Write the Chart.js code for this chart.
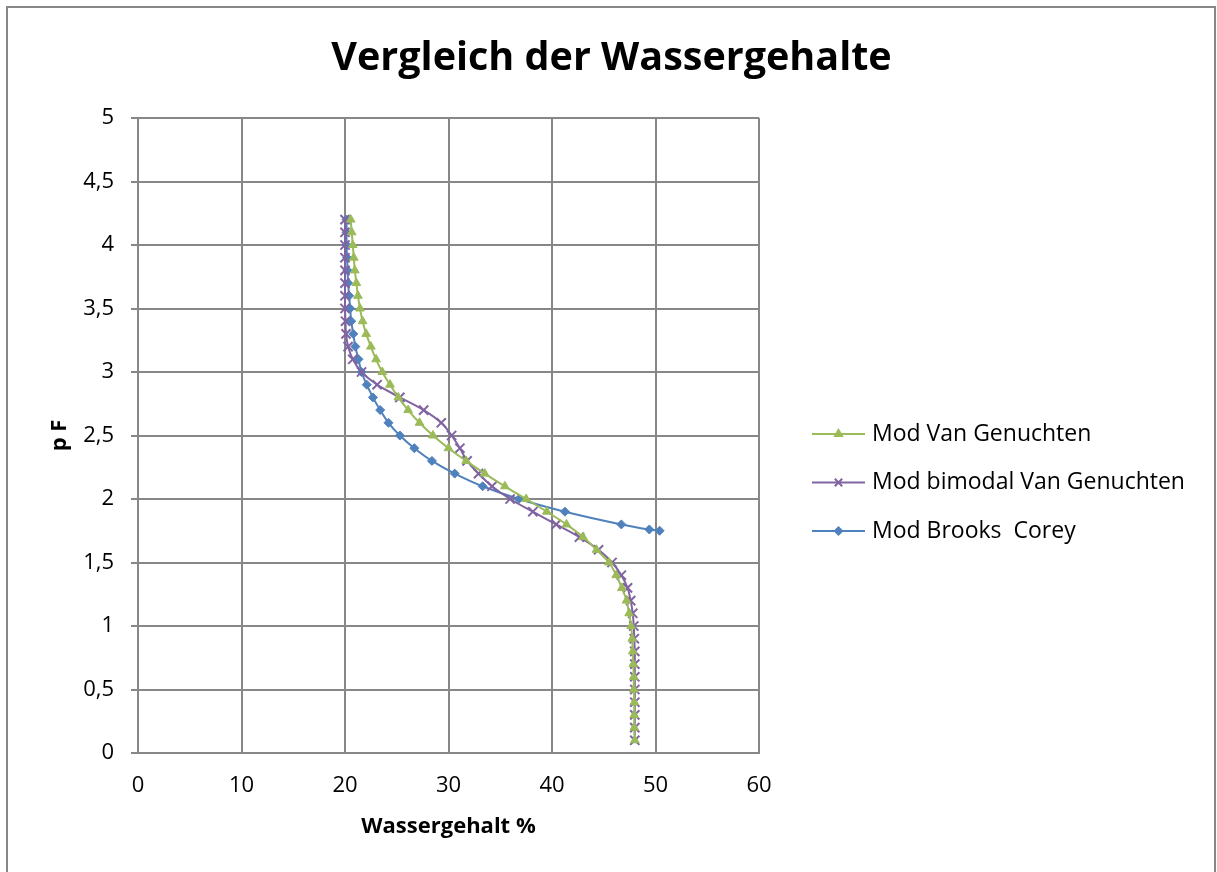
<!DOCTYPE html>
<html>
<head>
<meta charset="utf-8">
<title>Vergleich der Wassergehalte</title>
<script src="https://cdn.jsdelivr.net/npm/chart.js@4/dist/chart.umd.min.js"></script>
<style>
  html, body { margin: 0; padding: 0; background: #ffffff; }
  #wrap { width: 1217px; height: 872px; }
</style>
</head>
<body>
<div id="wrap"><canvas id="chart" width="1217" height="872"></canvas></div>
<script>
// pF levels shared by both Van Genuchten models
const pfLevels = [4.2, 4.1, 4.0, 3.9, 3.8, 3.7, 3.6, 3.5, 3.4, 3.3, 3.2, 3.1, 3.0, 2.9, 2.8, 2.7, 2.6, 2.5, 2.4, 2.3, 2.2,
                  2.1, 2.0, 1.9, 1.8, 1.7, 1.6, 1.5, 1.4, 1.3, 1.2, 1.1, 1.0, 0.9, 0.8, 0.7, 0.6, 0.5, 0.4, 0.3, 0.2, 0.1];

// Water content (%) – Mod Van Genuchten
const vanGenuchten = [20.55, 20.65, 20.75, 20.85, 20.95, 21.1, 21.25, 21.45, 21.7, 22.05, 22.5, 23.0, 23.6, 24.35, 25.15,
                      26.1, 27.2, 28.5, 30.0, 31.7, 33.5, 35.45, 37.5, 39.5, 41.4, 43.0, 44.3, 45.5, 46.2, 46.75, 47.2,
                      47.45, 47.65, 47.75, 47.8, 47.85, 47.9, 47.9, 47.95, 47.95, 47.95, 48.0];

// Water content (%) – Mod bimodal Van Genuchten
const bimodalVanGenuchten = [20.0, 20.0, 20.0, 20.0, 20.0, 20.0, 20.0, 20.0, 20.05, 20.1, 20.3, 20.75, 21.6, 23.1, 25.3,
                             27.6, 29.3, 30.3, 31.1, 31.8, 32.9, 34.2, 35.95, 38.15, 40.4, 42.65, 44.5, 45.8, 46.7, 47.3,
                             47.6, 47.8, 47.9, 47.95, 48.0, 48.0, 48.0, 48.0, 48.0, 48.0, 48.0, 48.0];

// Mod Brooks Corey has its own pF levels
const brooksCoreyPF = [4.2, 4.1, 4.0, 3.9, 3.8, 3.7, 3.6, 3.5, 3.4, 3.3, 3.2, 3.1, 3.0, 2.9, 2.8, 2.7, 2.6, 2.5, 2.4, 2.3,
                       2.2, 2.1, 2.0, 1.9, 1.8, 1.76, 1.75];
const brooksCorey = [20.15, 20.15, 20.15, 20.2, 20.25, 20.3, 20.4, 20.5, 20.6, 20.8, 21.0, 21.3, 21.6, 22.1, 22.7, 23.4,
                     24.2, 25.3, 26.7, 28.4, 30.6, 33.3, 36.8, 41.25, 46.7, 49.4, 50.4];

const seriesNames = ['Mod Van Genuchten', 'Mod bimodal Van Genuchten', 'Mod Brooks  Corey'];
const yTickLabels = ['0', '0,5', '1', '1,5', '2', '2,5', '3', '3,5', '4', '4,5', '5'];
const xTickLabels = ['0', '10', '20', '30', '40', '50', '60'];

const chartTitle = 'Vergleich der Wassergehalte';
const xTitle = 'Wassergehalt %';
const yTitle = 'p F';

const FONT = '"Open Sans", "DejaVu Sans", sans-serif';
const GRID = '#878787';

function toPoints(xs, ys) {
  return xs.map((x, i) => ({ x: x, y: ys[i] }));
}

// Frame around the whole chart, the heading and the legend on the right
const decorations = {
  id: 'decorations',
  beforeDraw(chart) {
    const ctx = chart.ctx;
    ctx.save();
    ctx.fillStyle = '#ffffff';
    ctx.fillRect(0, 0, chart.width, chart.height);
    ctx.strokeStyle = GRID;
    ctx.lineWidth = 2;
    ctx.beginPath();
    ctx.moveTo(7, chart.height + 5);
    ctx.lineTo(7, 7);
    ctx.lineTo(1215, 7);
    ctx.lineTo(1215, chart.height + 5);
    ctx.stroke();
    ctx.restore();
  },
  afterDraw(chart) {
    const ctx = chart.ctx;
    ctx.save();
    ctx.fillStyle = '#000000';
    ctx.font = 'bold 39.5px ' + FONT;
    ctx.textAlign = 'center';
    ctx.textBaseline = 'alphabetic';
    ctx.fillText(chartTitle, 611.5, 70);

    chart.data.datasets.forEach((ds, i) => {
      const y = 434 + i * 48.5;
      ctx.strokeStyle = ds.borderColor;
      ctx.lineWidth = 2;
      ctx.beginPath();
      ctx.moveTo(812, y);
      ctx.lineTo(865, y);
      ctx.stroke();
      ctx.fillStyle = ds.pointBackgroundColor;
      ctx.strokeStyle = ds.pointBorderColor;
      Chart.helpers.drawPoint(ctx, {
        pointStyle: ds.pointStyle,
        radius: ds.pointRadius * 0.8,
        rotation: 0,
        borderWidth: ds.pointBorderWidth
      }, 838.5, y);
      ctx.fillStyle = '#000000';
      ctx.font = '23px ' + FONT;
      ctx.textAlign = 'left';
      ctx.textBaseline = 'middle';
      ctx.fillText(ds.label, 872, y);
    });
    ctx.restore();
  }
};

const data = {
  datasets: [
    {
      label: seriesNames[0],
      data: toPoints(vanGenuchten, pfLevels),
      borderColor: '#9BBB59',
      backgroundColor: '#9BBB59',
      pointBackgroundColor: '#9BBB59',
      pointBorderColor: '#9BBB59',
      pointStyle: 'triangle',
      pointRadius: 5,
      pointBorderWidth: 1
    },
    {
      label: seriesNames[1],
      data: toPoints(bimodalVanGenuchten, pfLevels),
      borderColor: '#8064A2',
      backgroundColor: '#8064A2',
      pointBackgroundColor: '#8064A2',
      pointBorderColor: '#8064A2',
      pointStyle: 'crossRot',
      pointRadius: 6.5,
      pointBorderWidth: 2
    },
    {
      label: seriesNames[2],
      data: toPoints(brooksCorey, brooksCoreyPF),
      borderColor: '#4F81BD',
      backgroundColor: '#4F81BD',
      pointBackgroundColor: '#4F81BD',
      pointBorderColor: '#4F81BD',
      pointStyle: 'rectRot',
      pointRadius: 4.5,
      pointBorderWidth: 1
    }
  ]
};

new Chart(document.getElementById('chart'), {
  type: 'scatter',
  data: data,
  plugins: [decorations],
  options: {
    responsive: false,
    animation: false,
    devicePixelRatio: 1,
    showLine: true,
    layout: { padding: { left: 8, top: 118, right: 458, bottom: 19 } },
    elements: {
      line: { borderWidth: 2, tension: 0.35, fill: false },
      point: { hoverRadius: 5 }
    },
    plugins: {
      legend: { display: false },
      title: { display: false },
      tooltip: { enabled: false }
    },
    scales: {
      x: {
        type: 'linear',
        min: 0,
        max: 60,
        afterFit(scale) { scale.height = 100; },
        ticks: {
          stepSize: 10,
          padding: 20,
          color: '#000000',
          font: { family: FONT, size: 22 },
          callback: (v, i) => xTickLabels[i]
        },
        grid: { color: GRID, lineWidth: 2, drawTicks: false },
        border: { color: GRID, width: 2 },
        title: {
          display: true,
          text: xTitle,
          color: '#000000',
          font: { family: FONT, size: 22, weight: 'bold' },
          padding: { top: 0, bottom: 13 }
        }
      },
      y: {
        type: 'linear',
        min: 0,
        max: 5,
        afterFit(scale) { scale.width = 130; },
        ticks: {
          stepSize: 0.5,
          padding: 17,
          color: '#000000',
          font: { family: FONT, size: 22 },
          callback: (v, i) => yTickLabels[i]
        },
        grid: { color: GRID, lineWidth: 2, drawTicks: true, tickLength: 7 },
        border: { color: GRID, width: 2 },
        title: {
          display: true,
          text: yTitle,
          color: '#000000',
          font: { family: FONT, size: 22, weight: 'bold' },
          padding: { top: 39, bottom: 0 }
        }
      }
    }
  }
});
</script>
</body>
</html>
